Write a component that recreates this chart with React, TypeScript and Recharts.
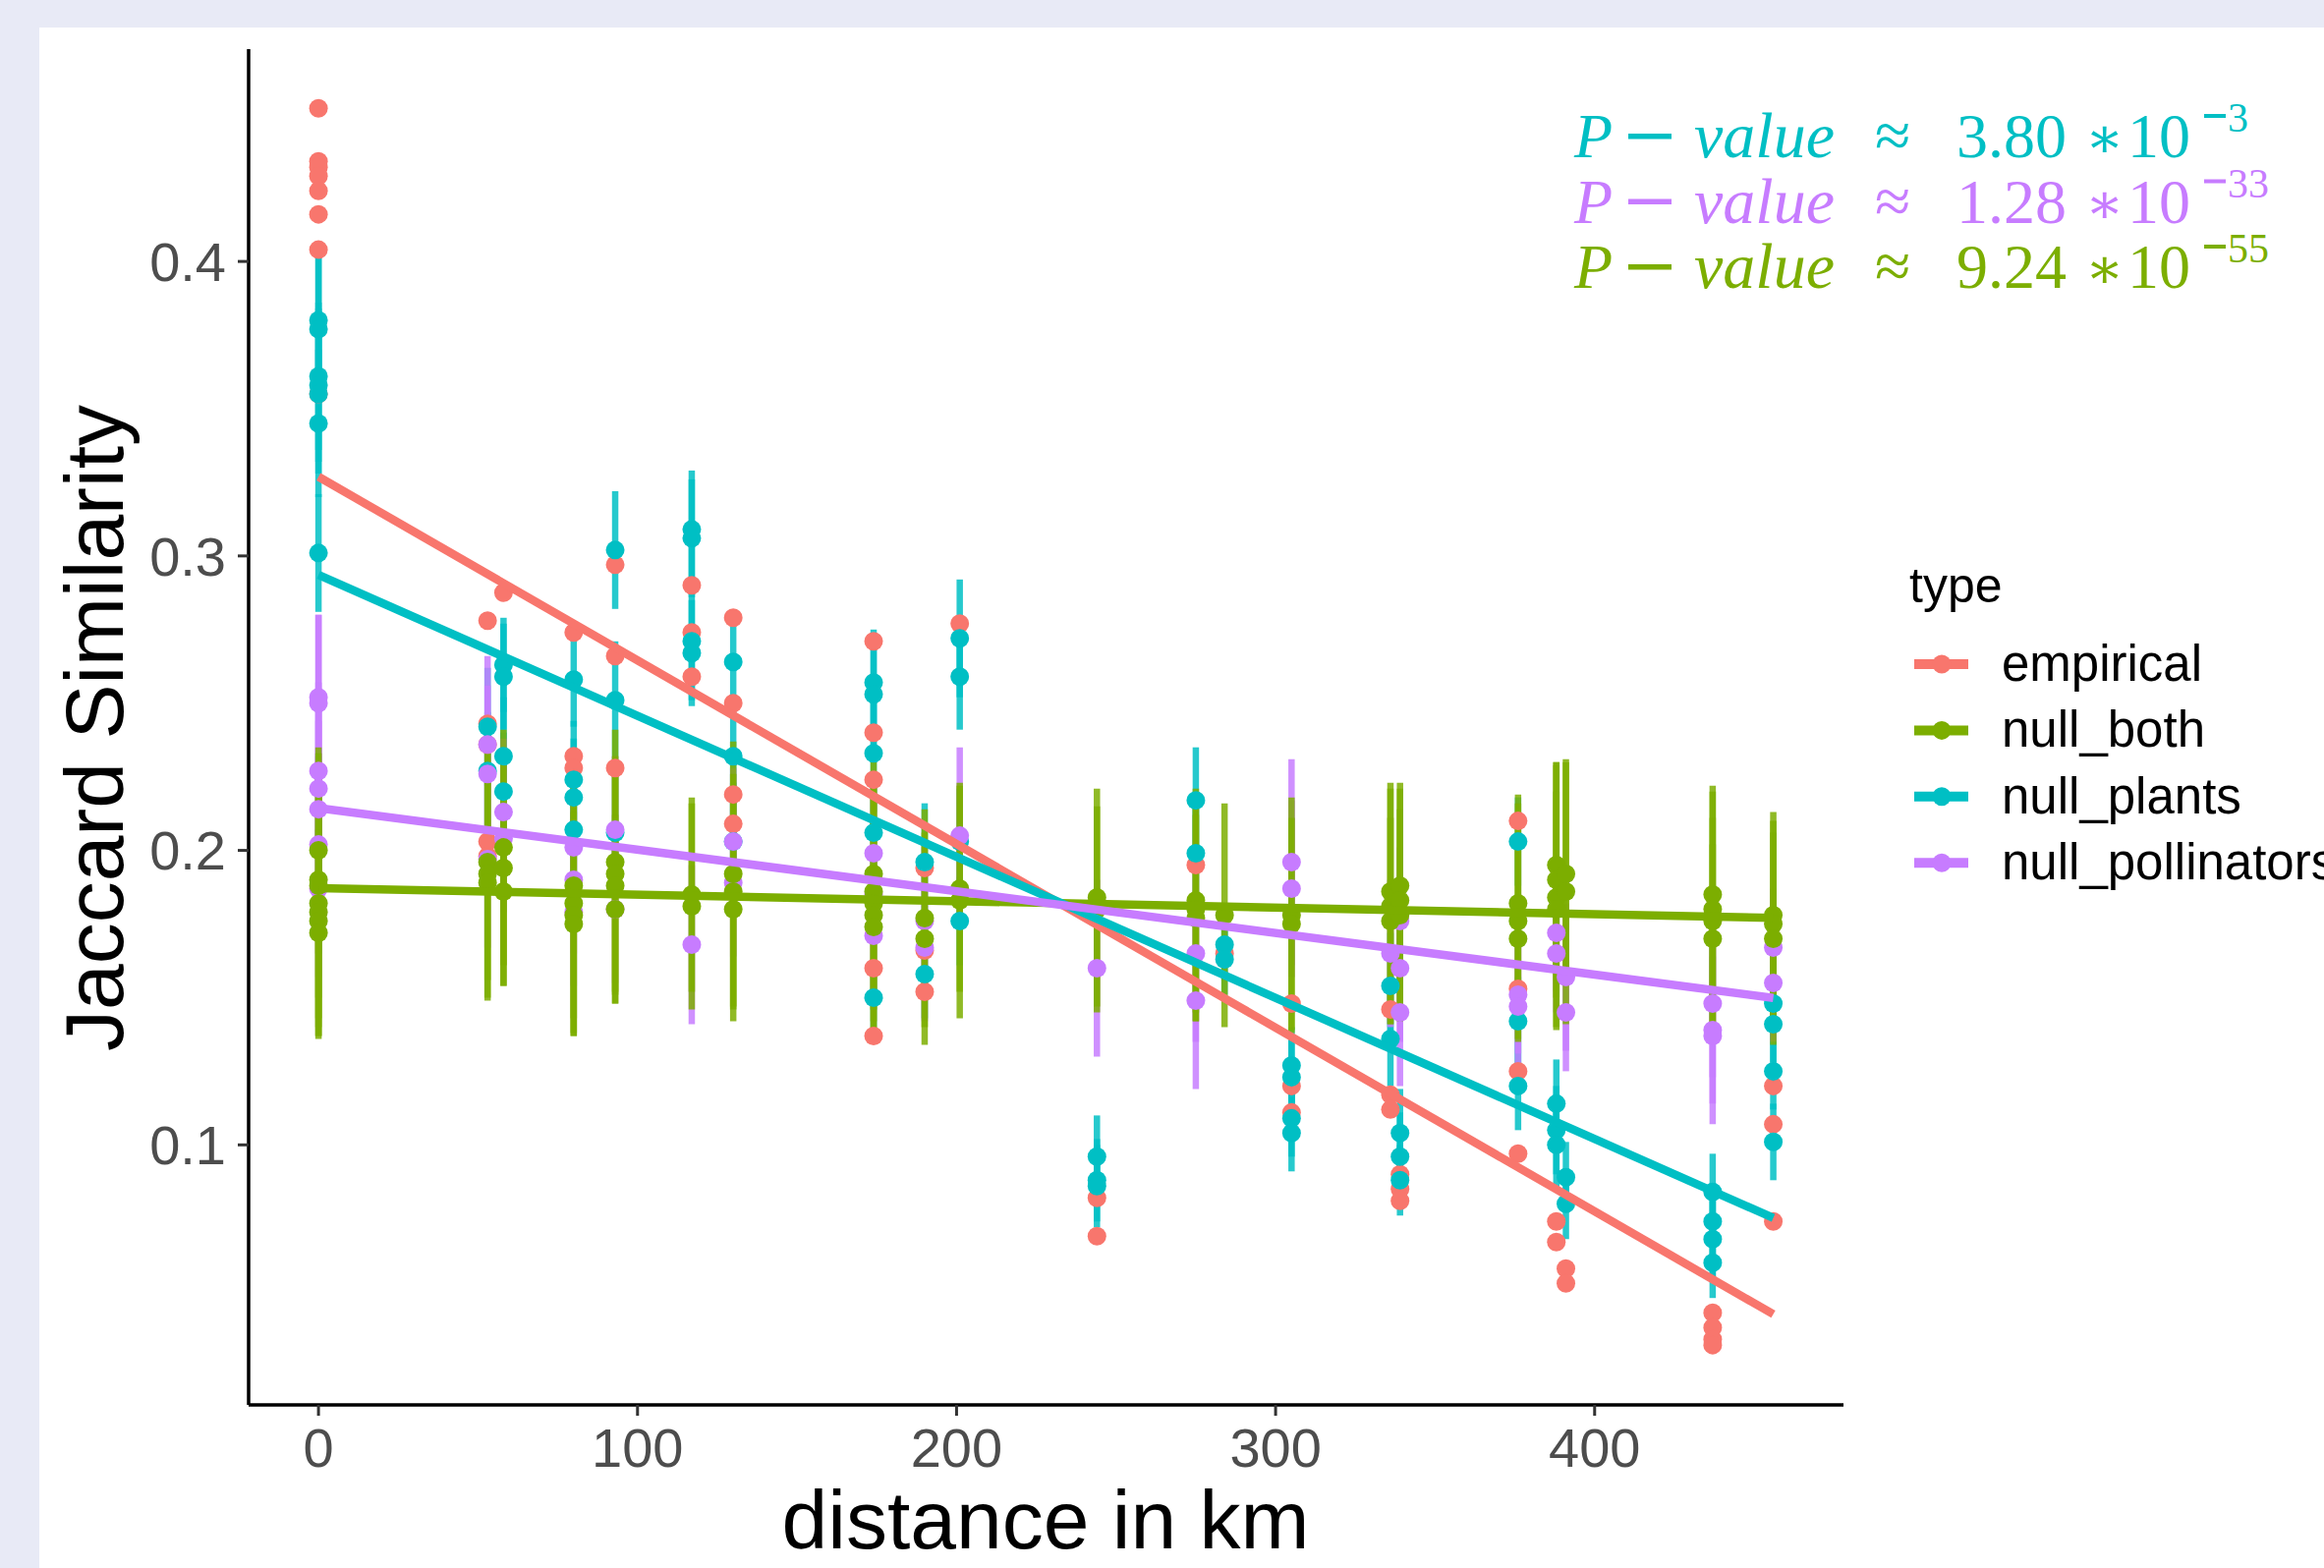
import { ScatterChart, Scatter, XAxis, YAxis, ErrorBar } from 'recharts'

const W = 2365
const H = 1596
const SANS = '"Liberation Sans", Arial, Helvetica, sans-serif'
const SERIF = '"Liberation Serif", "DejaVu Serif", serif'

const COLORS = {
  empirical: '#F8766D',
  null_both: '#7CAE00',
  null_plants: '#00BFC4',
  null_pollinators: '#C77CFF',
}
const TYPES = ['empirical', 'null_both', 'null_plants', 'null_pollinators'] as const

const X_TICKS = [0, 100, 200, 300, 400]
const Y_TICKS = [0.1, 0.2, 0.3, 0.4]

// empirical: [distance, similarity]
const empirical: number[][] = [
  [0, 0.452], [0, 0.434], [0, 0.432], [0, 0.429], [0, 0.424], [0, 0.416], [0, 0.404], [0, 0.355],
  [53, 0.278], [53, 0.243], [53, 0.236], [53, 0.203], [53, 0.198],
  [58, 0.2875],
  [80, 0.274], [80, 0.232], [80, 0.228],
  [93, 0.297], [93, 0.266], [93, 0.228],
  [117, 0.29], [117, 0.274], [117, 0.259],
  [130, 0.279], [130, 0.25], [130, 0.219], [130, 0.209],
  [174, 0.271], [174, 0.24], [174, 0.224], [174, 0.16], [174, 0.137],
  [190, 0.194], [190, 0.166], [190, 0.152],
  [201, 0.277],
  [244, 0.082], [244, 0.069],
  [275, 0.195],
  [284, 0.165],
  [305, 0.148], [305, 0.12], [305, 0.111],
  [336, 0.146], [336, 0.117], [336, 0.112],
  [339, 0.09], [339, 0.085], [339, 0.081],
  [376, 0.21], [376, 0.153], [376, 0.125], [376, 0.097],
  [388, 0.074], [388, 0.067],
  [391, 0.058], [391, 0.053],
  [437, 0.043], [437, 0.038], [437, 0.034], [437, 0.032],
  [456, 0.12], [456, 0.107], [456, 0.074],
]

// null models: [distance, mean similarity, sd]
const nullPlants: number[][] = [
  [0, 0.38, 0.024], [0, 0.377, 0.025], [0, 0.361, 0.025], [0, 0.358, 0.026], [0, 0.355, 0.027], [0, 0.345, 0.025], [0, 0.301, 0.02],
  [53, 0.242, 0.02], [53, 0.227, 0.02],
  [58, 0.263, 0.016], [58, 0.259, 0.018], [58, 0.232, 0.02], [58, 0.22, 0.02],
  [80, 0.258, 0.016], [80, 0.224, 0.02], [80, 0.218, 0.02], [80, 0.207, 0.018],
  [93, 0.302, 0.02], [93, 0.251, 0.02], [93, 0.206, 0.02],
  [117, 0.309, 0.02], [117, 0.306, 0.02], [117, 0.271, 0.02], [117, 0.267, 0.018],
  [130, 0.264, 0.016], [130, 0.232, 0.02], [130, 0.203, 0.02],
  [174, 0.257, 0.018], [174, 0.253, 0.02], [174, 0.233, 0.02], [174, 0.206, 0.02], [174, 0.15, 0.012],
  [190, 0.196, 0.02], [190, 0.158, 0.015],
  [201, 0.272, 0.02], [201, 0.259, 0.018], [201, 0.203, 0.018], [201, 0.176, 0.015],
  [244, 0.096, 0.014], [244, 0.088, 0.014], [244, 0.086, 0.014],
  [275, 0.217, 0.018], [275, 0.199, 0.02],
  [284, 0.168, 0.012], [284, 0.163, 0.012],
  [305, 0.127, 0.013], [305, 0.123, 0.013], [305, 0.109, 0.013], [305, 0.104, 0.013],
  [336, 0.154, 0.018], [336, 0.136, 0.016],
  [339, 0.104, 0.015], [339, 0.096, 0.015], [339, 0.088, 0.012],
  [376, 0.203, 0.015], [376, 0.142, 0.015], [376, 0.12, 0.015],
  [388, 0.114, 0.015], [388, 0.105, 0.015], [388, 0.1, 0.015],
  [391, 0.089, 0.012], [391, 0.08, 0.012],
  [437, 0.084, 0.013], [437, 0.074, 0.013], [437, 0.068, 0.013], [437, 0.06, 0.012],
  [456, 0.148, 0.013], [456, 0.141, 0.013], [456, 0.125, 0.013], [456, 0.101, 0.013],
]

const nullPollinators: number[][] = [
  [0, 0.252, 0.028], [0, 0.25, 0.03], [0, 0.227, 0.03], [0, 0.221, 0.03], [0, 0.214, 0.03], [0, 0.202, 0.03], [0, 0.187, 0.03],
  [53, 0.236, 0.03], [53, 0.226, 0.03], [53, 0.197, 0.03],
  [58, 0.213, 0.025], [58, 0.204, 0.025],
  [80, 0.201, 0.025], [80, 0.19, 0.025], [80, 0.179, 0.025],
  [93, 0.207, 0.025], [93, 0.18, 0.025],
  [117, 0.168, 0.027],
  [130, 0.203, 0.025], [130, 0.189, 0.025],
  [174, 0.199, 0.025], [174, 0.185, 0.025], [174, 0.171, 0.025],
  [190, 0.176, 0.025], [190, 0.167, 0.025],
  [201, 0.205, 0.03],
  [244, 0.16, 0.03],
  [275, 0.165, 0.03], [275, 0.149, 0.03],
  [305, 0.196, 0.035], [305, 0.187, 0.03],
  [336, 0.165, 0.025],
  [339, 0.176, 0.025], [339, 0.16, 0.025], [339, 0.145, 0.025],
  [376, 0.151, 0.02], [376, 0.147, 0.02],
  [388, 0.172, 0.02], [388, 0.165, 0.02],
  [391, 0.157, 0.025], [391, 0.145, 0.02],
  [437, 0.148, 0.025], [437, 0.139, 0.025], [437, 0.137, 0.03],
  [456, 0.167, 0.02], [456, 0.155, 0.02],
]

const nullBoth: number[][] = [
  [0, 0.2, 0.035], [0, 0.19, 0.04], [0, 0.188, 0.045], [0, 0.182, 0.042], [0, 0.179, 0.042], [0, 0.176, 0.04], [0, 0.172, 0.035],
  [53, 0.196, 0.04], [53, 0.192, 0.042], [53, 0.189, 0.04],
  [58, 0.201, 0.04], [58, 0.194, 0.04], [58, 0.186, 0.032],
  [80, 0.188, 0.045], [80, 0.182, 0.045], [80, 0.178, 0.04], [80, 0.175, 0.038],
  [93, 0.196, 0.045], [93, 0.192, 0.04], [93, 0.188, 0.04], [93, 0.18, 0.032],
  [117, 0.185, 0.033], [117, 0.181, 0.035],
  [130, 0.192, 0.045], [130, 0.186, 0.04], [130, 0.18, 0.038],
  [174, 0.192, 0.04], [174, 0.186, 0.04], [174, 0.182, 0.04], [174, 0.178, 0.04], [174, 0.174, 0.037],
  [190, 0.177, 0.037], [190, 0.17, 0.036],
  [201, 0.187, 0.035], [201, 0.183, 0.04],
  [244, 0.184, 0.037], [244, 0.18, 0.035],
  [275, 0.183, 0.038], [275, 0.18, 0.038], [275, 0.177, 0.035],
  [284, 0.178, 0.038],
  [305, 0.178, 0.04], [305, 0.175, 0.036],
  [336, 0.186, 0.037], [336, 0.181, 0.04], [336, 0.176, 0.035],
  [339, 0.188, 0.035], [339, 0.183, 0.038], [339, 0.178, 0.036],
  [376, 0.182, 0.037], [376, 0.176, 0.04], [376, 0.17, 0.035],
  [388, 0.195, 0.035], [388, 0.19, 0.04], [388, 0.184, 0.045], [388, 0.18, 0.04],
  [391, 0.192, 0.038], [391, 0.186, 0.045],
  [437, 0.185, 0.037], [437, 0.18, 0.04], [437, 0.176, 0.035], [437, 0.17, 0.032],
  [456, 0.178, 0.035], [456, 0.175, 0.035], [456, 0.17, 0.036],
]

// linear fits, endpoints at the min and max distance
const fitEmpirical = [[0, 0.3269], [456, 0.0425]]
const fitBoth = [[0, 0.1872], [456, 0.1771]]
const fitPlants = [[0, 0.2936], [456, 0.0752]]
const fitPollinators = [[0, 0.2144], [456, 0.1499]]

const pValues = [
  { mant: '3.80', exp: '3', color: COLORS.null_plants },
  { mant: '1.28', exp: '33', color: COLORS.null_pollinators },
  { mant: '9.24', exp: '55', color: COLORS.null_both },
]

const toPts = (rows: number[][]) => rows.map(([x, y, err]) => ({ x, y, err }))

const dot = (color: string, r = 9.5) => (p: any) =>
  <circle cx={p.cx} cy={p.cy} r={r} fill={color} />

const noShape = () => <g />

export default function App() {
  const pointSeries = [
    { data: nullPlants, color: COLORS.null_plants },
    { data: nullPollinators, color: COLORS.null_pollinators },
    { data: nullBoth, color: COLORS.null_both },
  ]
  const fits = [
    { data: fitBoth, color: COLORS.null_both },
    { data: fitEmpirical, color: COLORS.empirical },
    { data: fitPlants, color: COLORS.null_plants },
    { data: fitPollinators, color: COLORS.null_pollinators },
  ]

  return (
    <div style={{ position: 'absolute', left: 0, top: 0, width: W, height: H, background: '#E8EAF6', overflow: 'hidden' }}>
      <div style={{ position: 'absolute', left: 40, top: 28, right: 0, bottom: 0, background: 'white' }} />
      <ScatterChart
        width={W} height={H}
        margin={{ top: 50, right: 489, bottom: 66, left: 153 }}
        style={{ position: 'absolute', left: 0, top: 0 }}
      >
        <XAxis
          type="number" dataKey="x" height={100}
          domain={[-21.9, 478]} allowDataOverflow ticks={X_TICKS}
          axisLine={{ stroke: '#000', strokeWidth: 3.5 }}
          tickLine={{ stroke: '#333', strokeWidth: 3 }} tickSize={11} tickMargin={12}
          tick={{ fontSize: 56, fill: '#4D4D4D', fontFamily: SANS }}
        />
        <YAxis
          type="number" dataKey="y" width={100}
          domain={[0.0117, 0.4721]} allowDataOverflow ticks={Y_TICKS}
          axisLine={{ stroke: '#000', strokeWidth: 3.5 }}
          tickLine={{ stroke: '#333', strokeWidth: 3 }} tickSize={11} tickMargin={12}
          tick={{ fontSize: 56, fill: '#4D4D4D', fontFamily: SANS }}
        />
        <Scatter data={toPts(empirical)} fill={COLORS.empirical} shape={dot(COLORS.empirical)} isAnimationActive={false} />
        {pointSeries.map((s, i) => (
          <Scatter key={i} data={toPts(s.data)} fill={s.color} shape={dot(s.color)} isAnimationActive={false}>
            <ErrorBar dataKey="err" direction="y" width={0} stroke={s.color} strokeWidth={6.5} strokeOpacity={0.85} isAnimationActive={false} />
          </Scatter>
        ))}
        {fits.map((f, i) => (
          <Scatter
            key={`fit${i}`} data={toPts(f.data)} fill={f.color}
            line={{ stroke: f.color, strokeWidth: 8.5 }} lineType="joint"
            shape={noShape} isAnimationActive={false}
          />
        ))}
      </ScatterChart>

      <svg width={W} height={H} style={{ position: 'absolute', left: 0, top: 0, pointerEvents: 'none' }}>
        <text x={1064} y={1576} textAnchor="middle" fontSize={84} fontFamily={SANS} fill="#000">distance in km</text>
        <text transform="translate(125,741) rotate(-90)" textAnchor="middle" fontSize={84} fontFamily={SANS} fill="#000">Jaccard Similarity</text>

        {pValues.map((p, i) => {
          const y = 160 + i * 66.5
          return (
            <g key={i} fill={p.color} fontFamily={SERIF}>
              <text x={1602} y={y} fontSize={64} fontStyle="italic">P</text>
              <rect x={1657} y={y - 24} width={44} height={5.5} />
              <text x={1724} y={y} fontSize={66} fontStyle="italic">value</text>
              <text x={1908} y={y} fontSize={66}>≈</text>
              <text x={1991} y={y} fontSize={64}>{p.mant}</text>
              <text x={2122} y={y} fontSize={58}>∗</text>
              <text x={2165} y={y} fontSize={64}>10</text>
              <rect x={2243} y={y - 44} width={22} height={4} />
              <text x={2267} y={y - 26} fontSize={42}>{p.exp}</text>
            </g>
          )
        })}

        <text x={1943} y={613} fontSize={50} fontFamily={SANS} fill="#000">type</text>
        {TYPES.map((name, i) => {
          const cy = 676 + i * 67.4
          const c = COLORS[name]
          return (
            <g key={name}>
              <line x1={1948} x2={2003} y1={cy} y2={cy} stroke={c} strokeWidth={10} />
              <circle cx={1976} cy={cy} r={9.5} fill={c} />
              <text x={2037} y={cy + 17} fontSize={51} fontFamily={SANS} fill="#000">{name}</text>
            </g>
          )
        })}
      </svg>
    </div>
  )
}
